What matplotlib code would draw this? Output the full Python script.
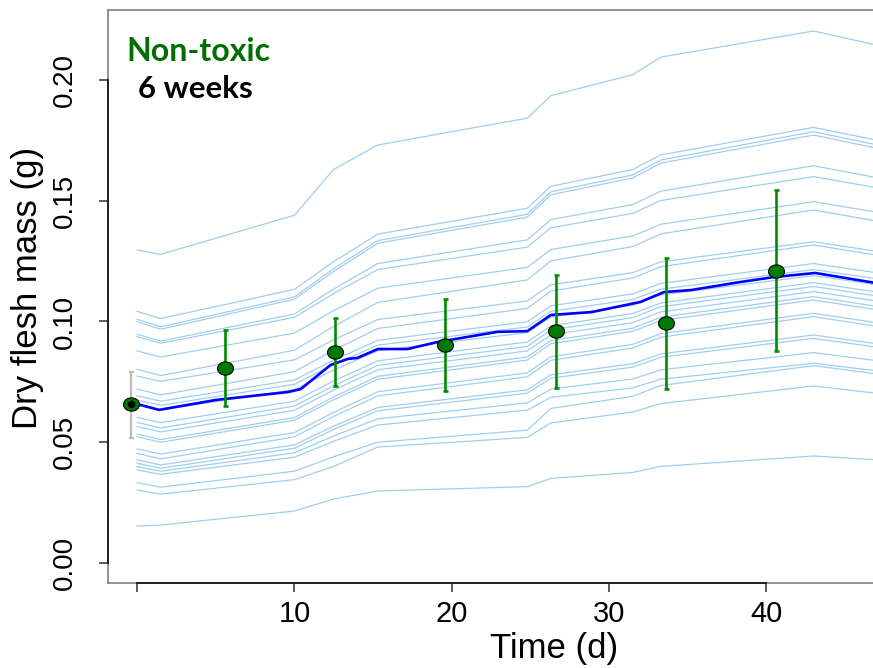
import matplotlib
matplotlib.use("Agg")
import matplotlib.pyplot as plt
from matplotlib.path import Path
from matplotlib.transforms import Affine2D

# days at which each simulated trajectory was read off
knot_days = [0, 1.5, 10, 12.5, 15.3, 24.8, 26.3, 31.5, 33.3, 43, 47]

# simulated individual trajectories, dry flesh mass (g)
individual_mass = [
    [0.1296, 0.1278, 0.1440, 0.1630, 0.1731, 0.1842, 0.1935, 0.2022, 0.2095, 0.2203, 0.2145],
    [0.1042, 0.1012, 0.1133, 0.1248, 0.1362, 0.1469, 0.1560, 0.1629, 0.1690, 0.1804, 0.1751],
    [0.1009, 0.0978, 0.1102, 0.1219, 0.1335, 0.1444, 0.1537, 0.1607, 0.1669, 0.1786, 0.1732],
    [0.0999, 0.0968, 0.1092, 0.1208, 0.1324, 0.1432, 0.1525, 0.1594, 0.1656, 0.1772, 0.1718],
    [0.0947, 0.0919, 0.1031, 0.1135, 0.1240, 0.1338, 0.1422, 0.1484, 0.1540, 0.1645, 0.1596],
    [0.0937, 0.0910, 0.1017, 0.1116, 0.1215, 0.1308, 0.1388, 0.1448, 0.1501, 0.1600, 0.1554],
    [0.0878, 0.0853, 0.0952, 0.1045, 0.1138, 0.1224, 0.1298, 0.1354, 0.1403, 0.1496, 0.1453],
    [0.0802, 0.0776, 0.0881, 0.0980, 0.1079, 0.1172, 0.1251, 0.1310, 0.1363, 0.1462, 0.1416],
    [0.0774, 0.0752, 0.0841, 0.0924, 0.1008, 0.1085, 0.1152, 0.1202, 0.1247, 0.1330, 0.1291],
    [0.0720, 0.0696, 0.0792, 0.0881, 0.0971, 0.1054, 0.1126, 0.1180, 0.1227, 0.1317, 0.1275],
    [0.0692, 0.0670, 0.0758, 0.0840, 0.0922, 0.0999, 0.1065, 0.1114, 0.1158, 0.1240, 0.1202],
    [0.0675, 0.0653, 0.0740, 0.0821, 0.0902, 0.0977, 0.1042, 0.1091, 0.1134, 0.1215, 0.1177],
    [0.0654, 0.0633, 0.0718, 0.0799, 0.0879, 0.0954, 0.1018, 0.1067, 0.1110, 0.1190, 0.1152],
    [0.0603, 0.0581, 0.0670, 0.0754, 0.0837, 0.0915, 0.0982, 0.1033, 0.1077, 0.1161, 0.1122],
    [0.0582, 0.0559, 0.0650, 0.0734, 0.0818, 0.0897, 0.0965, 0.1016, 0.1061, 0.1145, 0.1106],
    [0.0565, 0.0543, 0.0632, 0.0716, 0.0800, 0.0878, 0.0945, 0.0995, 0.1040, 0.1124, 0.1085],
    [0.0534, 0.0511, 0.0602, 0.0688, 0.0773, 0.0853, 0.0921, 0.0972, 0.1018, 0.1103, 0.1063],
    [0.0523, 0.0500, 0.0591, 0.0676, 0.0761, 0.0840, 0.0908, 0.0959, 0.1004, 0.1089, 0.1049],
    [0.0473, 0.0451, 0.0540, 0.0624, 0.0709, 0.0787, 0.0854, 0.0905, 0.0950, 0.1034, 0.0995],
    [0.0454, 0.0431, 0.0522, 0.0607, 0.0692, 0.0771, 0.0839, 0.0890, 0.0935, 0.1020, 0.0980],
    [0.0427, 0.0406, 0.0489, 0.0567, 0.0644, 0.0717, 0.0779, 0.0825, 0.0866, 0.0944, 0.0908],
    [0.0413, 0.0392, 0.0475, 0.0553, 0.0630, 0.0703, 0.0765, 0.0811, 0.0852, 0.0930, 0.0894],
    [0.0399, 0.0380, 0.0456, 0.0526, 0.0597, 0.0663, 0.0720, 0.0762, 0.0800, 0.0871, 0.0838],
    [0.0385, 0.0367, 0.0438, 0.0504, 0.0571, 0.0633, 0.0686, 0.0725, 0.0761, 0.0827, 0.0796],
    [0.0333, 0.0314, 0.0380, 0.0440, 0.0500, 0.0550, 0.0640, 0.0690, 0.0735, 0.0817, 0.0783],
    [0.0302, 0.0285, 0.0345, 0.0400, 0.0480, 0.0520, 0.0580, 0.0625, 0.0660, 0.0733, 0.0703],
    [0.0153, 0.0157, 0.0215, 0.0265, 0.0298, 0.0316, 0.0350, 0.0375, 0.0400, 0.0443, 0.0427],
]

# mean trajectory
mean_days = [0, 1.4, 5, 9.6, 10.4, 12.3, 13.4, 14, 15.3, 17.2, 19.1, 22.9, 24.8,
             26.3, 28.9, 32, 33.5, 35.2, 38.4, 40.5, 43.1, 46.9]
mean_mass = [0.0658, 0.0634, 0.0675, 0.0708, 0.0720, 0.0820, 0.0845, 0.0849,
             0.0886, 0.0886, 0.0915, 0.0957, 0.0960, 0.1027, 0.1039, 0.1081,
             0.1122, 0.1130, 0.1164, 0.1184, 0.1201, 0.1160]

# observed means with error bars
obs_days = [-0.4, 5.6, 12.6, 19.6, 26.6, 33.6, 40.6]
obs_mass = [0.0658, 0.0807, 0.0874, 0.0903, 0.0961, 0.0994, 0.1209]
obs_low = [0.0518, 0.0650, 0.0733, 0.0712, 0.0725, 0.0720, 0.0878]
obs_high = [0.0791, 0.0965, 0.1015, 0.1093, 0.1193, 0.1263, 0.1545]

x_ticks = [0, 10, 20, 30, 40]
x_tick_labels = ["", "10", "20", "30", "40"]
y_ticks = [0.00, 0.05, 0.10, 0.15, 0.20]
y_tick_labels = ["0.00", "0.05", "0.10", "0.15", "0.20"]

W, H = 873, 668


def draw():
    fig = plt.figure(figsize=(W / 100, H / 100), dpi=100)
    ax = fig.add_axes([108 / W, 85 / H, 765 / W, 573 / H])

    for row in individual_mass:
        ax.plot(knot_days, row, color="#9fcfef", lw=0.9, zorder=1)
    ax.plot(mean_days, mean_mass, color="#0000ff", lw=1.9, zorder=2)

    err_lo = [m - lo for m, lo in zip(obs_mass, obs_low)]
    err_hi = [hi - m for m, hi in zip(obs_mass, obs_high)]
    ax.errorbar(obs_days[:1], obs_mass[:1], yerr=[err_lo[:1], err_hi[:1]],
                fmt="none", ecolor="#bdbdbd", elinewidth=1.6, capsize=1.8,
                capthick=1.6, zorder=3)
    ax.errorbar(obs_days[1:], obs_mass[1:], yerr=[err_lo[1:], err_hi[1:]],
                fmt="none", ecolor="#008b00", elinewidth=1.9, capsize=1.8,
                capthick=1.9, zorder=3)

    # points look slightly wider than tall
    ellipse = Path.unit_circle().transformed(Affine2D().scale(1.0, 0.83))
    ax.plot(obs_days, obs_mass, linestyle="none", marker=ellipse, ms=11.5,
            mfc="#007a00", mec="black", mew=0.8, zorder=4)
    ax.plot(obs_days[:1], obs_mass[:1], linestyle="none", marker="o", ms=4.5,
            color="black", zorder=5)

    ax.set_xlim(-1.85, 46.78)
    ax.set_ylim(-0.0083, 0.229)

    for s in ax.spines.values():
        s.set_color("#8a8a8a")
        s.set_linewidth(1.3)
    ax.spines["right"].set_visible(False)
    # R style axis lines spanning the tick range only
    ax.plot([x_ticks[0], x_ticks[-1]], [0, 0], transform=ax.get_xaxis_transform(),
            color="#222222", lw=1.4, clip_on=False, zorder=6)
    ax.plot([0, 0], [y_ticks[0], y_ticks[-1]], transform=ax.get_yaxis_transform(),
            color="#222222", lw=1.4, clip_on=False, zorder=6)

    ax.set_xticks(x_ticks)
    ax.set_xticklabels(x_tick_labels, fontsize=21, family="Liberation Sans")
    ax.set_yticks(y_ticks)
    ax.set_yticklabels(y_tick_labels, fontsize=20, family="Liberation Sans",
                       rotation=90, va="center")
    ax.tick_params(direction="out", length=6.5, width=1.1, color="#333333")
    ax.tick_params(axis="x", pad=6)
    ax.tick_params(axis="y", pad=15)

    fig.text(554 / W, 10 / H, "Time (d)", fontsize=25, family="Liberation Sans",
             ha="center", va="baseline")
    fig.text(28 / W, 1 - 288 / H, "Dry flesh mass (g)", fontsize=25,
             family="Liberation Sans", rotation=90, ha="center", va="center")

    fig.text(198 / W, 1 - 60.7 / H, "Non-toxic", fontsize=23, family="Lato",
             weight="bold", color="#006e00", ha="center", va="baseline")
    fig.text(195.5 / W, 1 - 98.3 / H, "6 weeks", fontsize=22.5, family="Lato",
             weight="bold", color="black", ha="center", va="baseline")

    fig.savefig("out.png", dpi=100)
    plt.close(fig)


if __name__ == "__main__":
    draw()
